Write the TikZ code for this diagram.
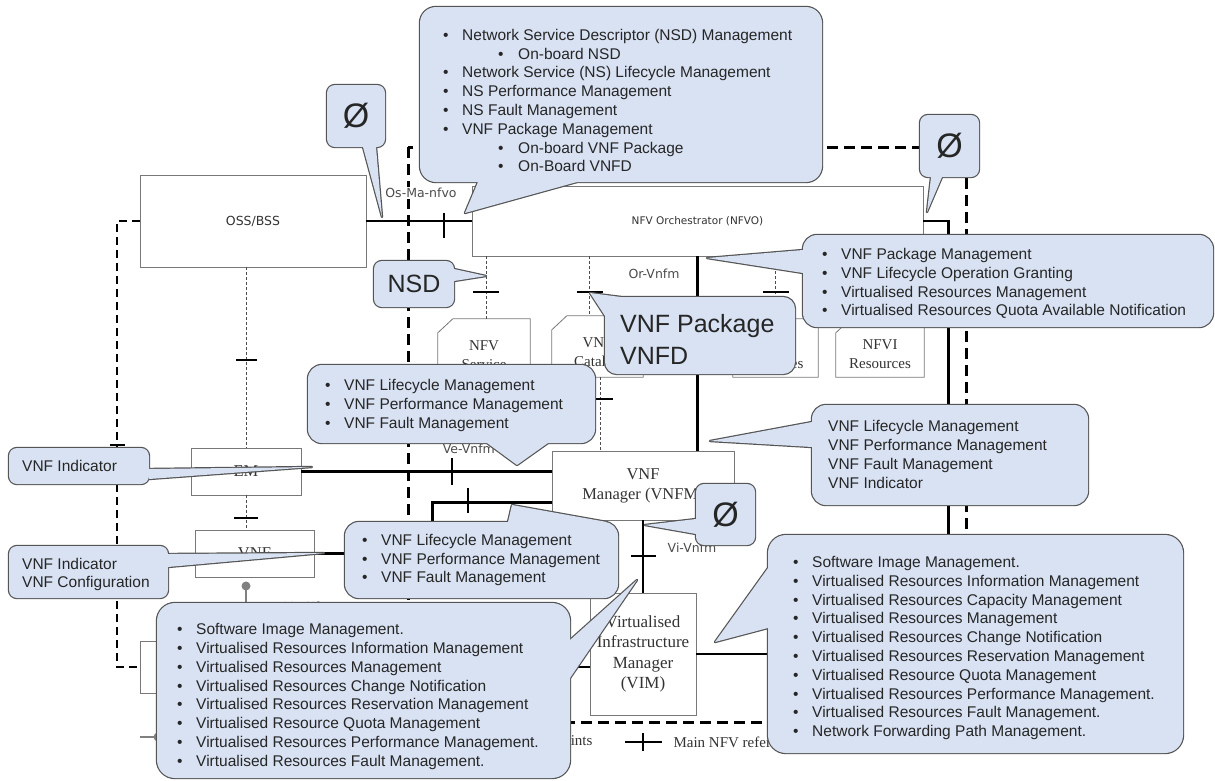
\documentclass[tikz,border=0pt]{standalone}
\usepackage{fontspec}
\setmainfont{Liberation Serif}
\setsansfont{Liberation Sans}
\newfontfamily\dvfont{DejaVu Sans}

\definecolor{bubblebg}{RGB}{216,226,243}
\definecolor{bubbleline}{RGB}{85,85,85}
\definecolor{boxline}{RGB}{120,120,120}

\newcommand{\itm}[1]{\makebox[19pt][l]{\textbullet}#1}
\newcommand{\subitm}[1]{\hspace{55pt}\makebox[20pt][l]{\textbullet}#1}
% box corners, pointer, corner radius
\newcommand{\bubble}[3]{%
	\draw[bubbleedge, rounded corners=#3] #1;
	\draw[bubbleedge] #2 -- cycle;
	\fill[bubblebg] #2 -- cycle;
	\fill[bubblebg, rounded corners=#3] #1;
}

\tikzset{
	block/.style={draw=boxline, line width=0.8pt, fill=white, align=center, text=black!80, font=\fontsize{16.5}{20}\selectfont},
	repo/.style={inner sep=0pt},
	repotext/.style={align=center, text=black!80, font=\fontsize{15}{19}\selectfont},
	mainref/.style={line width=2.5pt},
	otherref/.style={draw=black!70, line width=0.8pt, dash pattern=on 3pt off 2pt},
	sema/.style={line width=1.8pt, dash pattern=on 8pt off 5pt},
	mano/.style={line width=3pt, dash pattern=on 11pt off 6pt},
	vnnf/.style={draw=gray, line width=1.5pt},
	refmark/.style={line width=1.2pt},
	reflabel/.style={fill=white, inner sep=1.5pt, text=black!70, font=\dvfont\fontsize{12.5}{15}\selectfont},
	legendtext/.style={anchor=west, text=black!80, font=\fontsize{15}{18}\selectfont},
	bubbleedge/.style={draw=bubbleline, line width=2.4pt, line join=round},
	bubbletext/.style={anchor=west, align=left, inner sep=0pt, text=black!85, font=\sffamily\fontsize{15.5}{18.8}\selectfont},
	bigtext/.style={text=black!85, inner sep=0pt, font=\sffamily\fontsize{25}{31.5}\selectfont},
	bigsym/.style={text=black!85, inner sep=0pt, font=\sffamily\fontsize{34}{40}\selectfont}
}

\begin{document}
\begin{tikzpicture}[x=1pt, y=-1pt]
			\fill[white] (0,0) rectangle (1215,780);
			\useasboundingbox (0,0) rectangle (1215,780);
			
			% MANO frame
			\draw[mano] (408,147) rectangle (966,722);
			
			% Functional blocks
			\node[block, font=\dvfont\fontsize{12.5}{15}\selectfont, minimum width=226pt, minimum height=92pt] (oss) at (253,221) {OSS/BSS};
			\node[block, font=\dvfont\fontsize{10.5}{12}\selectfont, minimum width=451pt, minimum height=70pt] (nfvo) at (697.5,221) {NFV Orchestrator (NFVO)};
			\node[block, minimum width=182pt, minimum height=69pt] (vnfm) at (643,485.5) {VNF\\Manager (VNFM)};
			\node[block, font=\fontsize{17}{20.5}\selectfont, minimum width=106pt, minimum height=122pt] (vim) at (643,654) {Virtualised\\Infrastructure\\Manager\\(VIM)};
			\node[block, minimum width=110pt, minimum height=47pt] (em) at (246,471.5) {EM};
			\node[block, minimum width=119pt, minimum height=47pt] (vnf) at (254.5,553.5) {VNF};
			\node[block, minimum width=420pt, minimum height=52pt] (nfvi) at (350,667) {};
			
			% Repositories
			\node[repo, minimum width=92pt, minimum height=92pt] (nsc) at (484,365) {};
			\node[repo, minimum width=91pt, minimum height=61pt] (vnfc) at (597.5,346.5) {};
			\node[repo, minimum width=85pt, minimum height=58pt] (nsi) at (775.5,348) {};
			\node[repo, minimum width=88pt, minimum height=58pt] (nfvir) at (880,348) {};
			\foreach \r in {nsc,vnfc,nsi,nfvir}
				\draw[draw=boxline, line width=0.8pt, fill=white] (\r.south west) -- ([yshift=-14pt]\r.north west) -- ([xshift=15pt]\r.north west) -- (\r.north east) -- (\r.south east) -- cycle;
			\node[repotext] (nsctext) at (484,355) {NFV\\Service};
			\node[repotext] (vnfctext) at (597.5,354) {VNF\\Catalog};
			\node[repotext] (nsitext) at (775.5,354) {NFV\\Instances};
			\node[repotext] (nfvirtext) at (880,354) {NFVI\\Resources};
			
			% Main reference points
			\draw[mainref] (oss.east) -- (nfvo.west);
			\draw[mainref] (nfvo.south) -- (nfvo.south |- vnfm.north);
			\draw[mainref] (nfvo.east) -- ++(25,0) |- (vim.east);
			\draw[mainref] (vnfm.south) -- (vim.north);
			\draw[mainref] (em.east) -- (em.east -| vnfm.west);
			\draw[mainref] (vnf.east) -- ++(118,0) |- ([yshift=-17pt]vnfm.west);
			\draw[mainref] (nfvi.east) -- (nfvi.east -| vim.west);
			\draw[refmark] (444,213) -- (444,238);
			\draw[refmark] (452,458) -- (452,485);
			\draw[refmark] (468,488) -- (468,513);
			\draw[refmark] (631,556) -- (656,556);
			
			% Other reference points
			\coordinate (tickrow) at (0,292);
			\foreach \r/\dx in {nsc/2, vnfc/-8, nsi/0} {
				\draw[otherref] ([xshift=\dx pt]\r.north |- nfvo.south) -- ([xshift=\dx pt]\r.north);
				\draw[refmark] ([xshift=\dx pt]\r.north |- tickrow) ++(-13,0) -- ++(26,0);
			}
			\draw[otherref] ([xshift=2.5pt]vnfc.south) -- ([xshift=2.5pt]vnfc.south |- vnfm.north);
			\draw[refmark] (588,399) -- (613,399);
			\draw[otherref] (em.north |- oss.south) -- (em.north);
			\draw[refmark] (236,360) -- (257,360);
			\draw[otherref] (em.south) -- (em.south |- vnf.north);
			\draw[refmark] (234,518) -- (258,518);
			\draw[sema] (oss.west) -- ++(-23,0) |- (nfvi.west);
			\draw[refmark] (110,445) -- (125,445);
			
			% Execution reference point
			\coordinate (vnnfdot) at (246,586);
			\draw[vnnf] (vnnfdot) -- (vnnfdot |- nfvi.north);
			\fill[gray] (vnnfdot) circle (4.5pt);
			
			% Labels
			\node[reflabel] (osmalbl) at (421,193) {Os-Ma-nfvo};
			\node[reflabel] (orvnfmlbl) at (654,274) {Or-Vnfm};
			\node[reflabel] (vivnfmlbl) at (692,548) {Vi-Vnfm};
			\node[reflabel] (vevnfmlbl) at (481,449) {Ve-Vnfm-em};
			\node[reflabel] (vnnflbl) at (302,607) {Vn-Nf};
			
			% Legend
			\draw[vnnf] (140,737) -- (176,737);
			\fill[gray] (158,737) circle (4.5pt);
			\node[legendtext, anchor=east] (otherlbl) at (596,742) {points};
			\draw[mainref] (625,742) -- (662,742);
			\draw[refmark] (643,733) -- (643,751);
			\node[legendtext] (mainlbl) at (670,742) {Main NFV refer};
			
			% Callouts
			\bubble{(420,7) rectangle (822,182)}{(478,182) -- (465,213) -- (577,182)}{16pt}
			\node[bubbletext] (osmaops) at (443,100.5) {\itm{Network Service Descriptor (NSD) Management}\\
				\subitm{On-board NSD}\\
				\itm{Network Service (NS) Lifecycle Management}\\
				\itm{NS Performance Management}\\
				\itm{NS Fault Management}\\
				\itm{VNF Package Management}\\
				\subitm{On-board VNF Package}\\
				\subitm{On-Board VNFD}};
			
			\bubble{(327,85) rectangle (385,147)}{(363,147) -- (382,217) -- (376,147)}{8pt}
			\node[bigsym] (osmanull) at (356,116) {Ø};
			
			\bubble{(920,115) rectangle (979,177)}{(931,177) -- (927,212) -- (942,177)}{8pt}
			\node[bigsym] (orvinull) at (949.5,146) {Ø};
			
			\bubble{(374,261) rectangle (454,307)}{(454,269) -- (486,276) -- (454,281)}{8pt}
			\node[bigtext] (nsdlbl) at (414,284) {NSD};
			
			\bubble{(605,297) rectangle (795,374)}{(605,316) -- (590,293) -- (621,297)}{12pt}
			\node[bigtext, anchor=west, align=left] (vnfpkglbl) at (620,339.5) {VNF Package\\VNFD};
			
			\bubble{(803,235) rectangle (1213,327)}{(803,250) -- (707,258) -- (803,273)}{14pt}
			\node[bubbletext] (orvnfmops) at (822,283.5) {\itm{VNF Package Management}\\
				\itm{VNF Lifecycle Operation Granting}\\
				\itm{Virtualised Resources Management}\\
				\itm{Virtualised Resources Quota Available Notification}};
			
			\bubble{(812,405) rectangle (1088,505)}{(812,422) -- (710,441) -- (812,447)}{14pt}
			\node[bubbletext] (vnfmops) at (828,454.5) {VNF Lifecycle Management\\VNF Performance Management\\VNF Fault Management\\VNF Indicator};
			
			\bubble{(696,484) rectangle (755,545)}{(696,519) -- (645,525) -- (696,534)}{8pt}
			\node[bigsym] (vivnfmnull) at (725.5,514.5) {Ø};
			
			\bubble{(308,365) rectangle (595,443)}{(487,443) -- (517,465) -- (548,443)}{14pt}
			\node[bubbletext] (emops) at (325,405.5) {\itm{VNF Lifecycle Management}\\
				\itm{VNF Performance Management}\\
				\itm{VNF Fault Management}};
			
			\bubble{(9,448) rectangle (149,484)}{(149,469) -- (312,467) -- (149,479)}{8pt}
			\node[bubbletext] (emind) at (22,466) {VNF Indicator};
			
			\bubble{(9,546) rectangle (168,598)}{(168,554) -- (324,553) -- (168,567)}{8pt}
			\node[bubbletext] (vnfind) at (22,574.5) {VNF Indicator\\VNF Configuration};
			
			\bubble{(345,522) rectangle (618,598)}{(508,522) -- (512,505) -- (607,522)}{14pt}
			\node[bubbletext] (vnfops) at (362,560) {\itm{VNF Lifecycle Management}\\
				\itm{VNF Performance Management}\\
				\itm{VNF Fault Management}};
			
			\bubble{(157,603) rectangle (570,778)}{(570,640) -- (637,580) -- (570,678)}{18pt}
			\node[bubbletext] (vivnfmops) at (177,696.5) {\itm{Software Image Management.}\\
				\itm{Virtualised Resources Information Management}\\
				\itm{Virtualised Resources Management}\\
				\itm{Virtualised Resources Change Notification}\\
				\itm{Virtualised Resources Reservation Management}\\
				\itm{Virtualised Resource Quota Management}\\
				\itm{Virtualised Resources Performance Management.}\\
				\itm{Virtualised Resources Fault Management.}};
			
			\bubble{(768,535) rectangle (1183,753)}{(768,568) -- (715,642) -- (768,628)}{18pt}
			\node[bubbletext] (orviops) at (793,648) {\itm{Software Image Management.}\\
				\itm{Virtualised Resources Information Management}\\
				\itm{Virtualised Resources Capacity Management}\\
				\itm{Virtualised Resources Management}\\
				\itm{Virtualised Resources Change Notification}\\
				\itm{Virtualised Resources Reservation Management}\\
				\itm{Virtualised Resource Quota Management}\\
				\itm{Virtualised Resources Performance Management.}\\
				\itm{Virtualised Resources Fault Management.}\\
				\itm{Network Forwarding Path Management.}};
		\end{tikzpicture}
\end{document}
